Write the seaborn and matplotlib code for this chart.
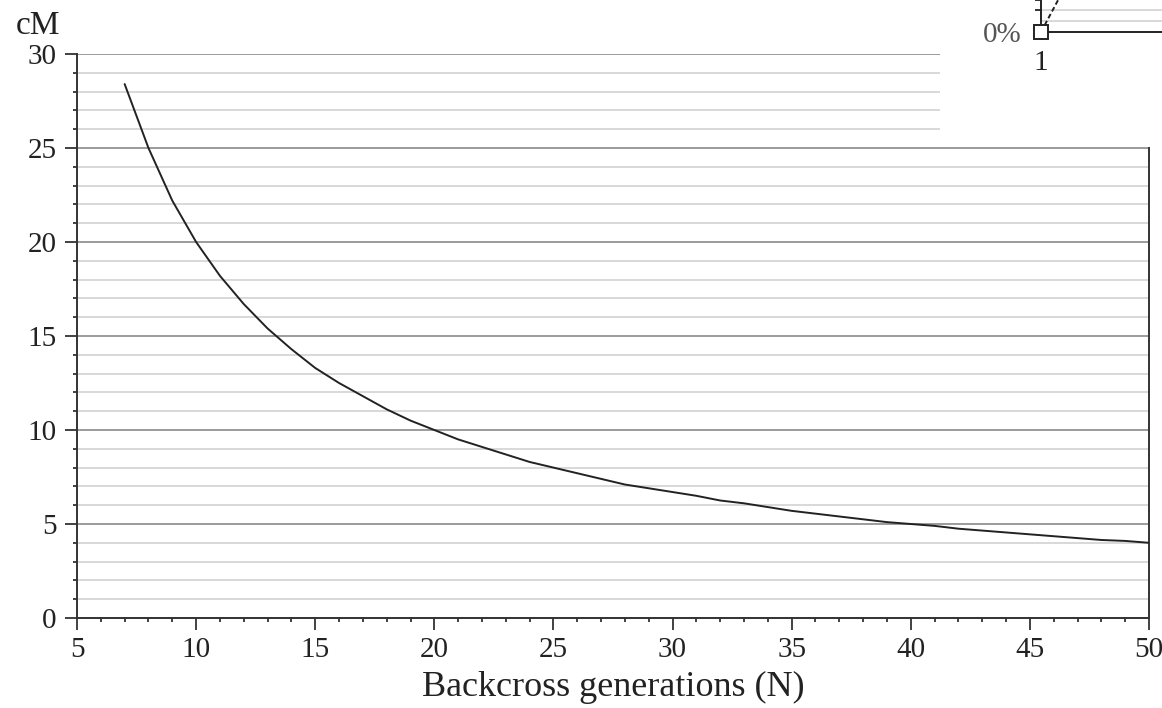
import matplotlib
matplotlib.use("Agg")
import matplotlib.pyplot as plt
import seaborn as sns
from matplotlib.ticker import MultipleLocator, FixedLocator

# values
generations = list(range(7, 51))
cm_length = [28.4, 25.0, 22.2, 20.0, 18.2, 16.7, 15.4, 14.3, 13.3, 12.5,
             11.8, 11.1, 10.5, 10.0, 9.5, 9.1, 8.7, 8.3, 8.0, 7.7,
             7.4, 7.1, 6.9, 6.7, 6.5, 6.25, 6.1, 5.9, 5.7, 5.55,
             5.4, 5.25, 5.1, 5.0, 4.9, 4.75, 4.65, 4.55, 4.45, 4.35,
             4.25, 4.15, 4.1, 4.0]

x_ticks = [5, 10, 15, 20, 25, 30, 35, 40, 45, 50]
y_ticks = [0, 5, 10, 15, 20, 25, 30]

# fragment of the neighbouring chart that overlaps the top right corner
inset_point_x = [1]
inset_point_y = [0]
inset_dash_x = [1, 2]
inset_dash_y = [0, 17]
inset_grid_y = [1, 2]

sns.set_theme(style="ticks")
plt.rcParams["font.family"] = ["Liberation Serif", "DejaVu Serif"]

fig = plt.figure(figsize=(11.62, 7.08), dpi=100)
ax = fig.add_axes([77 / 1162, 90 / 708, 1072 / 1162, 564 / 708])

ax.grid(False)
for v in range(0, 31):
    if v % 5 == 0:
        ax.axhline(v, color="#8a8a8a", lw=1.2, zorder=1)
    else:
        ax.axhline(v, color="#d2d2d2", lw=1.2, zorder=1)

sns.lineplot(x=generations, y=cm_length, ax=ax, color="#222222", lw=1.4, zorder=3)

ax.set_xlim(5, 50)
ax.set_ylim(0, 30)
ax.xaxis.set_major_locator(FixedLocator(x_ticks))
ax.yaxis.set_major_locator(FixedLocator(y_ticks))
ax.xaxis.set_minor_locator(MultipleLocator(1))
ax.yaxis.set_minor_locator(MultipleLocator(1))
ax.tick_params(which="major", length=8.5, width=1.3, color="#333333",
               labelsize=21, labelcolor="#222222", direction="out")
ax.tick_params(axis="y", which="major", pad=6)
ax.tick_params(axis="x", which="major", pad=5)
ax.tick_params(which="minor", length=3.2, width=1.3, color="#333333", direction="out")

for side in ["left", "bottom", "right"]:
    ax.spines[side].set_color("#333333")
    ax.spines[side].set_linewidth(1.4)
ax.spines["top"].set_visible(False)
ax.spines["right"].set_bounds(0, 25)

ax.set_xlabel("Backcross generations (N)", fontsize=26, color="#222222", labelpad=6)
ax.set_ylabel("")
ax.text(-0.036, 1.05, "cM", transform=ax.transAxes, fontsize=24,
        ha="center", va="center", color="#222222")

# overlapping inset, white box that hides the top right of the main grid
ins = fig.add_axes([940 / 1162, 568 / 708, 222 / 1162, 140 / 708], zorder=5)
ins.set_facecolor("white")
ins.set_xlim(-0.01, 2.21)
ins.set_ylim(-9.82, 2.91)
for side in ["top", "right"]:
    ins.spines[side].set_visible(False)
ins.spines["left"].set_position(("data", 1))
ins.spines["left"].set_bounds(0, 3)
ins.spines["bottom"].set_position(("data", 0))
ins.spines["bottom"].set_bounds(1, 2.21)
for side in ["left", "bottom"]:
    ins.spines[side].set_color("#222222")
    ins.spines[side].set_linewidth(1.4)
ins.hlines(inset_grid_y, 1, 2.21, color="#d2d2d2", lw=1.2, zorder=1)
ins.plot(inset_dash_x, inset_dash_y, color="#222222", lw=1.4, ls=(0, (2.5, 1.5)), zorder=2)
ins.plot(inset_point_x, inset_point_y, marker="s", ms=10, mfc="white", mec="#222222",
         mew=1.4, ls="none", zorder=4, clip_on=False)
ins.set_xticks([1])
ins.set_xticklabels(["1"])
ins.set_yticks([0])
ins.set_yticklabels(["0%"])
ins.set_yticks([2, 2.9], minor=True)
ins.tick_params(which="major", length=5, width=1.3, labelsize=21, color="#222222")
ins.tick_params(axis="x", which="major", pad=8, labelcolor="#222222")
ins.tick_params(axis="y", which="major", pad=9, labelcolor="#555555")
ins.tick_params(axis="y", which="minor", length=4, width=1.3, color="#222222")
ins.grid(False)

fig.savefig("out.png", dpi=100, facecolor="white")
